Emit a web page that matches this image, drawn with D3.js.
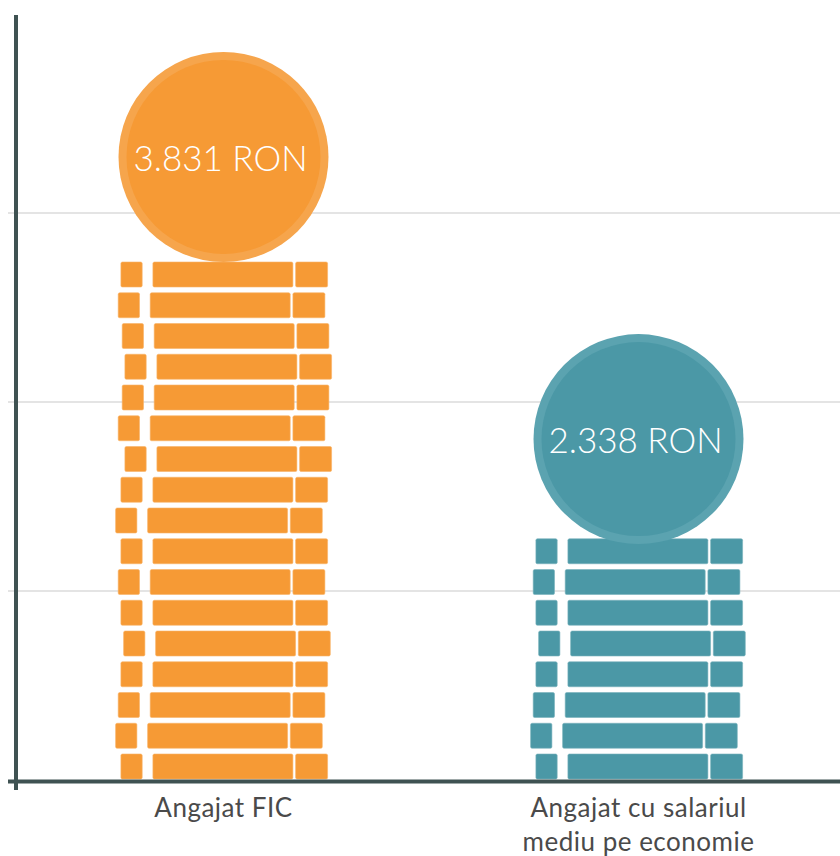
<!DOCTYPE html>
<html>
<head>
<meta charset="utf-8">
<script src="https://cdn.jsdelivr.net/npm/d3@7"></script>
<style>
  body { margin: 0; background: #fff; }
  svg { display: block; font-family: Lato, 'Open Sans', sans-serif; }
</style>
</head>
<body>
<div id="chart"></div>
<script>
// data
const categories = ['Angajat FIC', 'Angajat cu salariul mediu pe economie']
const labelLines = [['Angajat FIC'], ['Angajat cu salariul', 'mediu pe economie']]
const values = [3831, 2338]
const valueLabels = ['3.831 RON', '2.338 RON']
const gridTicks = [1000, 2000, 3000]

const colors = ['#f69a35', '#4b98a6']
const ringColors = ['#f6a54c', '#5ba3b0']
const edgeColors = ['#f8b468', '#78b2bc']

// horizontal wobble of the coin rows, counted from the bottom
const wobble = [0, -5.3, -2.7, 0, 2.7, 0, -2.7, 0, -5.3, 0, 4, -2.7, 1.3, 4, 1.3, -2.7, 0]

const width = 840, height = 856
const svg = d3.select('#chart').append('svg')
    .attr('width', width)
    .attr('height', height)

const x = d3.scalePoint()
    .domain(categories)
    .range([16, 846])
    .padding(0.5)

const y = d3.scaleLinear()
    .domain([0, 4000])
    .range([780, 24])

// gridlines
svg.append('g').selectAll('line')
    .data(gridTicks)
    .join('line')
    .attr('x1', 8).attr('x2', width)
    .attr('y1', d => y(d)).attr('y2', d => y(d))
    .attr('stroke', '#e4e4e4')
    .attr('stroke-width', 2)

const r = 105
const rowH = 25, pitch = 30.75

categories.forEach((c, i) => {
    const cx = x(c)
    const top = y(values[i]) - 4
    const cy = top + r
    const g = svg.append('g')

    // coin stack
    const n = Math.round((y(0) - (top + 2 * r)) / pitch)
    const rows = d3.range(n)
    const pieces = [[0, 21.3], [32, 172], [174.7, 206.7]]
    rows.forEach(k => {
        const ry = y(0) - 1 - rowH - k * pitch
        const left = cx - 102.6 + wobble[k % wobble.length]
        g.selectAll(null)
            .data(pieces)
            .enter().append('rect')
            .attr('x', p => left + p[0])
            .attr('y', ry)
            .attr('width', p => p[1] - p[0])
            .attr('height', rowH)
            .attr('rx', 1.5)
            .attr('fill', colors[i])
            .attr('stroke', edgeColors[i])
            .attr('stroke-width', 0.6)
    })

    // the coin on top
    g.append('circle')
        .attr('cx', cx).attr('cy', cy).attr('r', r)
        .attr('fill', ringColors[i])
    g.append('circle')
        .attr('cx', cx).attr('cy', cy).attr('r', r - 8)
        .attr('fill', colors[i])
    g.append('text')
        .attr('x', cx - 3)
        .attr('y', cy + 14)
        .attr('text-anchor', 'middle')
        .attr('fill', '#fff')
        .style('font-size', '35px')
        .style('font-weight', 300)
        .text(valueLabels[i])

    // category label
    g.append('text')
        .attr('text-anchor', 'middle')
        .attr('fill', '#4a4a4a')
        .style('font-size', '26px')
        .style('letter-spacing', '0.5px')
        .selectAll('tspan')
        .data(labelLines[i])
        .join('tspan')
        .attr('x', cx)
        .attr('y', (d, j) => 817 + j * 34)
        .text(d => d)
})

// axes
svg.append('line')
    .attr('x1', 16).attr('x2', 16)
    .attr('y1', y(4000) - 9).attr('y2', y(0) + 10)
    .attr('stroke', '#3f5252')
    .attr('stroke-width', 4)
svg.append('line')
    .attr('x1', 8).attr('x2', width)
    .attr('y1', y(0) + 1.5).attr('y2', y(0) + 1.5)
    .attr('stroke', '#3f5252')
    .attr('stroke-width', 4)
</script>
</body>
</html>
